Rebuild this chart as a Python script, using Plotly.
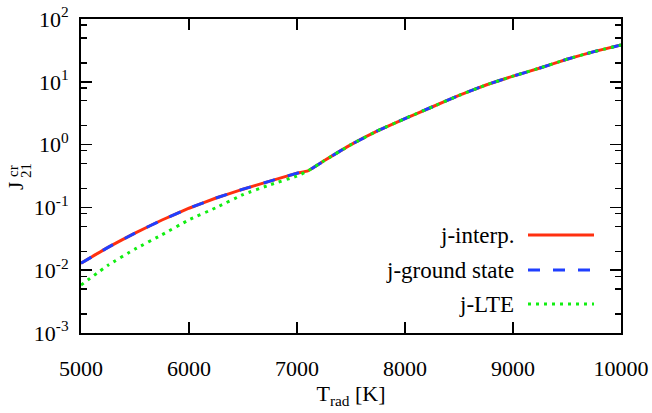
import plotly.graph_objects as go

# ---- data ----
T_rad = [5000, 5250, 5500, 5750, 6000, 6250, 6500, 6750, 7000, 7100,
         7250, 7500, 7750, 8000, 8250, 8500, 8750, 9000, 9250, 9500, 9750, 10000]
j_interp = [0.0129, 0.0231, 0.039, 0.063, 0.097, 0.141, 0.195, 0.262, 0.350, 0.382,
            0.552, 1.0, 1.67, 2.6, 3.97, 6.07, 8.9, 12.3, 16.6, 22.9, 30.2, 38.5]
j_ground = [0.0129, 0.0231, 0.039, 0.063, 0.097, 0.141, 0.195, 0.262, 0.350, 0.382,
            0.552, 1.0, 1.67, 2.6, 3.97, 6.07, 8.9, 12.3, 16.6, 22.9, 30.2, 38.5]
j_lte = [0.0058, 0.0120, 0.0217, 0.0367, 0.0634, 0.099, 0.160, 0.229, 0.316, 0.380,
         0.552, 1.0, 1.67, 2.6, 3.97, 6.07, 8.9, 12.3, 16.6, 22.9, 30.2, 38.5]

series_names = ["j-interp.", "j-ground state", "j-LTE"]
x_ticks = [5000, 6000, 7000, 8000, 9000, 10000]
x_ticktext = ["5000", "6000", "7000", "8000", "9000", "10000"]
y_ticks = [1e-3, 1e-2, 1e-1, 1e0, 1e1, 1e2]
y_ticktext = ["10<sup>-3</sup>", "10<sup>-2</sup>", "10<sup>-1</sup>",
              "10<sup>0</sup>", "10<sup>1</sup>", "10<sup>2</sup>"]
y_minor = [m * d for d in [1e-3, 1e-2, 1e-1, 1e0, 1e1] for m in (2, 5, 8)]

RED = "#ff3010"
BLUE = "#1f3fff"
GREEN = "#11ee11"
FONT = "Liberation Serif"

W, H = 652, 413
L, R, T, B = 81, 621, 19, 333


def px(x):
    return (x - L) / (R - L)


def py(y):
    return (B - y) / (B - T)


fig = go.Figure()
fig.add_trace(go.Scatter(x=T_rad, y=j_interp, mode="lines", name=series_names[0],
                         line=dict(color=RED, width=3, shape="spline", smoothing=0.3),
                         showlegend=False))
fig.add_trace(go.Scatter(x=T_rad, y=j_ground, mode="lines", name=series_names[1],
                         line=dict(color=BLUE, width=3, dash="12px,13px", shape="spline",
                                   smoothing=0.3), showlegend=False))
fig.add_trace(go.Scatter(x=T_rad, y=j_lte, mode="lines", name=series_names[2],
                         line=dict(color=GREEN, width=3, dash="3px,5px", shape="spline",
                                   smoothing=0.3), showlegend=False))

# manual legend (text left, sample line right)
leg_y = [235, 270, 304]
leg_col = [RED, BLUE, GREEN]
leg_dash = ["solid", "12px,13px", "3px,5px"]
annotations = []
shapes = []
for name, yy, col, dsh in zip(series_names, leg_y, leg_col, leg_dash):
    annotations.append(dict(x=px(516), y=py(yy), xref="paper", yref="paper",
                            text=name, showarrow=False, xanchor="right", yanchor="middle",
                            font=dict(family=FONT, size=23, color="black")))
    shapes.append(dict(type="line", xref="paper", yref="paper",
                       x0=px(528), x1=px(594), y0=py(yy), y1=py(yy),
                       line=dict(color=col, width=3, dash=dsh)))

# y-axis title J_21^cr (stacked sub/superscript)
annotations.append(dict(x=px(16), y=py(186), xref="paper", yref="paper", text="J",
                        showarrow=False, textangle=-90, xanchor="center", yanchor="middle",
                        font=dict(family=FONT, size=21, color="black")))
annotations.append(dict(x=px(13), y=py(171), xref="paper", yref="paper", text="cr",
                        showarrow=False, textangle=-90, xanchor="center", yanchor="middle",
                        font=dict(family=FONT, size=15, color="black")))
annotations.append(dict(x=px(26), y=py(171), xref="paper", yref="paper", text="21",
                        showarrow=False, textangle=-90, xanchor="center", yanchor="middle",
                        font=dict(family=FONT, size=15, color="black")))

fig.update_layout(
    width=W, height=H,
    margin=dict(l=L, r=W - R, t=T, b=H - B, autoexpand=False),
    paper_bgcolor="white", plot_bgcolor="white",
    font=dict(family=FONT, size=22, color="black"),
    annotations=annotations, shapes=shapes,
    showlegend=False,
)
fig.update_xaxes(
    range=[5000, 10000], tickvals=x_ticks, ticktext=x_ticktext, ticks="inside",
    ticklen=11, tickwidth=1.5, automargin=False,
    tickcolor="black", showline=True, linecolor="black", linewidth=2, mirror="ticks",
    showgrid=False, zeroline=False, tickfont=dict(family=FONT, size=22),
    ticklabelstandoff=15,
    title=dict(text="T<sub>rad</sub> [K]", font=dict(family=FONT, size=22), standoff=1),
)
fig.update_yaxes(
    type="log", range=[-3, 2], tickvals=y_ticks, ticktext=y_ticktext, automargin=False,
    ticks="inside", ticklen=11, tickwidth=1.5, tickcolor="black",
    showline=True, linecolor="black", linewidth=2, mirror="ticks",
    showgrid=False, zeroline=False, tickfont=dict(family=FONT, size=22),
    ticklabelstandoff=6,
    minor=dict(tickvals=y_minor, ticks="inside", ticklen=6, tickwidth=1.5,
               tickcolor="black", showgrid=False),
)

fig.write_html("out.html", config={"displayModeBar": False, "staticPlot": True},
               post_script="document.body.style.margin='0';document.body.style.padding='0';")
